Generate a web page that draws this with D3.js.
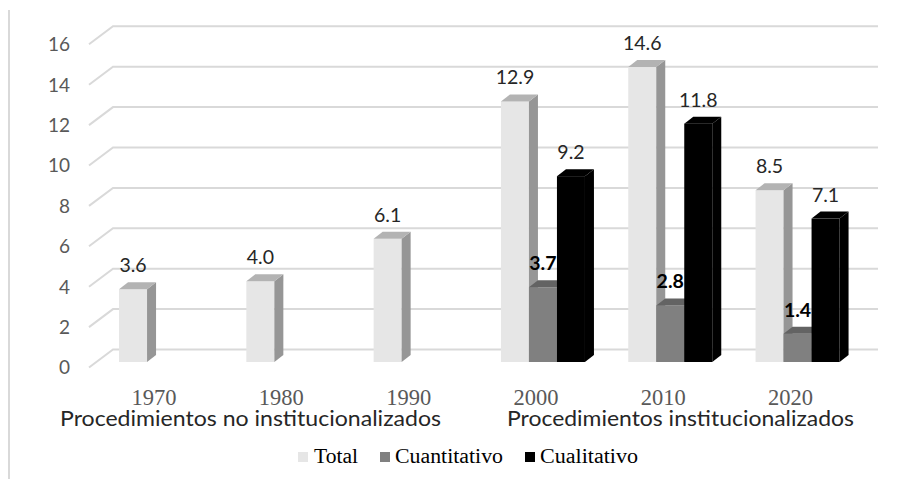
<!DOCTYPE html>
<html><head><meta charset="utf-8">
<script src="https://cdn.jsdelivr.net/npm/d3@7"></script>
<style>body{margin:0;background:#fff}svg{display:block}</style>
</head><body><svg id="c" width="920" height="479"></svg>
<script>
const years = ["1970","1980","1990","2000","2010","2020"];
const seriesNames = ["Total","Cuantitativo","Cualitativo"];
const total = [3.6,4.0,6.1,12.9,14.6,8.5];
const cuantitativo = [null,null,null,3.7,2.8,1.4];
const cualitativo = [null,null,null,9.2,11.8,7.1];
const yTicks = [0,2,4,6,8,10,12,14,16];
const groupLabels = ["Procedimientos no institucionalizados","Procedimientos institucionalizados"];

const svg = d3.select("#c");
const colors = {
  Total:{front:"#e6e6e6",top:"#b3b3b3",side:"#969696"},
  Cuantitativo:{front:"#808080",top:"#636363",side:"#5c5c5c"},
  Cualitativo:{front:"#000",top:"#000",side:"#000"}
};
const seriesData = {Total: total, Cuantitativo: cuantitativo, Cualitativo: cualitativo};

// left border
svg.append("line").attr("x1",9).attr("x2",9).attr("y1",10).attr("y2",479)
  .attr("stroke","#d9d9d9").attr("stroke-width",2);

const yBar = d3.scaleLinear().domain([0,16]).range([362, 362-16*20.2]);
const yBack = d3.scaleLinear().domain([0,16]).range([349.5, 349.5-16*20.2]);
const gdx = 24, gdy = 18;
const gridX0 = 89, gridX1 = 878;

// gridlines
const grid = svg.append("g");
yTicks.forEach(v => {
  const yb = yBack(v);
  grid.append("path")
    .attr("d", `M${gridX0},${yb+gdy}L${gridX0+gdx},${yb}L${gridX1},${yb}`)
    .attr("fill","none").attr("stroke","#d9d9d9").attr("stroke-width",2);
  svg.append("text").attr("x",70).attr("y",yb+gdy).attr("dy","0.36em")
    .attr("text-anchor","end").attr("font-family","Lato, sans-serif")
    .attr("font-size",19).attr("fill","#595959").text(v);
});

const x = d3.scaleBand().domain(years).range([97.4, 861.2]).paddingInner(0.34).paddingOuter(0.17);
const xs = d3.scaleBand().domain(seriesNames).range([0, x.bandwidth()]);
const bdx = 9, bdy = 7;

const bars = svg.append("g");
years.forEach((yr, i) => {
  seriesNames.forEach(s => {
    const v = seriesData[s][i];
    if (v == null) return;
    const x0 = x(yr) + xs(s), w = xs.bandwidth();
    const yt = yBar(v), yb = yBar(0);
    const c = colors[s];
    bars.append("rect").attr("x",x0).attr("y",yt).attr("width",w).attr("height",yb-yt).attr("fill",c.front);
    bars.append("path").attr("d",`M${x0+w},${yb}L${x0+w+bdx},${yb-bdy}L${x0+w+bdx},${yt-bdy}L${x0+w},${yt}Z`).attr("fill",c.side);
    bars.append("path").attr("d",`M${x0},${yt}L${x0+bdx},${yt-bdy}L${x0+w+bdx},${yt-bdy}L${x0+w},${yt}Z`).attr("fill",c.top);
  });
});
// data labels
years.forEach((yr, i) => {
  seriesNames.forEach(s => {
    const v = seriesData[s][i];
    if (v == null) return;
    const cx = x(yr) + xs(s) + xs.bandwidth()/2;
    const bold = s === "Cuantitativo";
    svg.append("text").attr("x",cx).attr("y",yBar(v) - 17)
      .attr("text-anchor","middle").attr("font-family","Lato, sans-serif")
      .attr("font-size",19.5).attr("font-weight",bold?"bold":"normal")
      .attr("fill",bold?"#000":"#262626").text(v.toFixed(1));
  });
});

// year labels
years.forEach(yr => {
  svg.append("text").attr("x", x(yr) + x.bandwidth()/2 - 7).attr("y",405)
    .attr("text-anchor","middle").attr("font-family","'Liberation Serif', serif")
    .attr("font-size",22.5).attr("fill","#595959").text(yr);
});
// group labels
const gl = [{t:groupLabels[0], x0:60, x1:441},{t:groupLabels[1], x0:507, x1:854}];
gl.forEach(g => {
  svg.append("text").attr("x",g.x0).attr("y",426)
    .attr("font-family","Lato, sans-serif").attr("font-size",21).attr("fill","#262626")
    .attr("textLength", g.x1-g.x0).attr("lengthAdjust","spacingAndGlyphs").text(g.t);
});

// legend
const legendPos = [{sx:298, tx:314, tw:44},{sx:380, tx:395, tw:108},{sx:525, tx:540, tw:98}];
seriesNames.forEach((s, i) => {
  const p = legendPos[i];
  svg.append("rect").attr("x",p.sx).attr("y",452).attr("width",10).attr("height",10).attr("fill",colors[s].front);
  svg.append("text").attr("x",p.tx).attr("y",463).attr("font-family","'Liberation Serif', serif")
    .attr("font-size",20).attr("fill","#000").attr("textLength",p.tw).attr("lengthAdjust","spacingAndGlyphs").text(s);
});
</script></body></html>
